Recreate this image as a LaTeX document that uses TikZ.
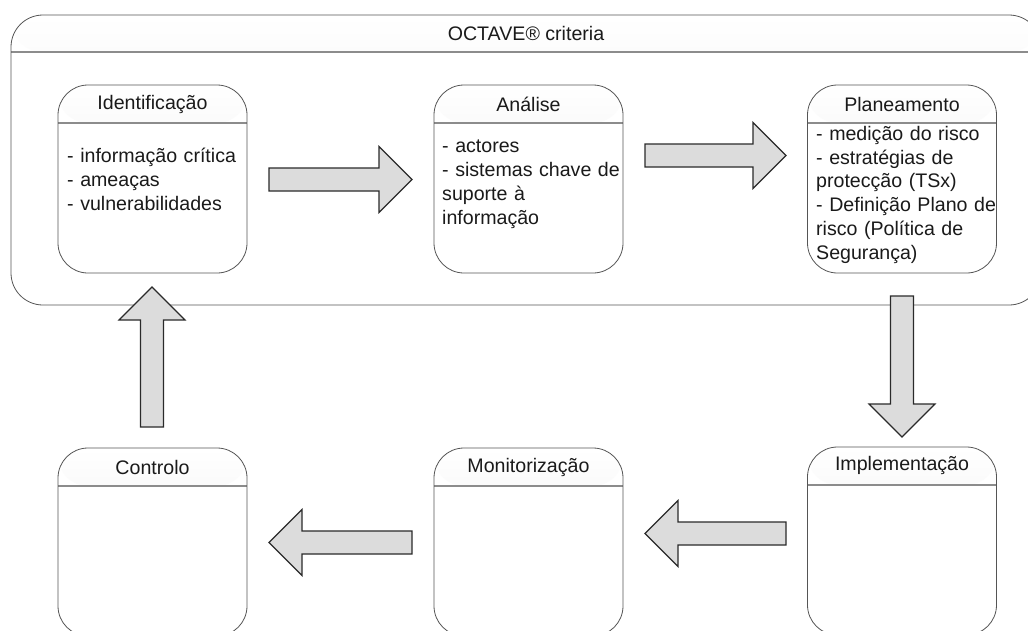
\documentclass[tikz,border=0pt]{standalone}
\usepackage{fontspec}
\setmainfont{Liberation Sans}
\definecolor{edgegray}{HTML}{555555}
\definecolor{hdrline}{HTML}{8C8C8C}
\definecolor{arrfill}{HTML}{DCDCDC}
\definecolor{arredge}{HTML}{2A2A2A}
\definecolor{txt}{HTML}{1A1A1A}
\tikzset{
  hdrband/.style={path picture={
      \shade[top color=white,bottom color=black!9]
        (path picture bounding box.north west) rectangle
        ([yshift=-#1]path picture bounding box.north east);
      \draw[hdrline,line width=1.1pt]
        ([yshift=-#1]path picture bounding box.north west) --
        ([yshift=-#1]path picture bounding box.north east);}},
  container/.style={draw=edgegray,line width=0.8pt,rounded corners=32pt,
    minimum width=1030pt,minimum height=290pt,inner sep=0pt,outer sep=0pt,
    hdrband=37pt},
  stage/.style={draw=edgegray,line width=0.8pt,rounded corners=30pt,
    minimum width=189pt,minimum height=188pt,inner sep=0pt,outer sep=0pt,
    hdrband=38pt},
  lbl/.style={font=\fontsize{19.6}{23.8}\selectfont,text=txt,inner sep=0pt},
  bodytxt/.style={lbl,align=left,text width=200pt,anchor=north west},
  barrow/.style={draw=arredge,fill=arrfill,line width=1.2pt,line join=miter},
}
\newcommand\blockarrow[3]{% tail, angle, length
  \begin{scope}[shift={#1},rotate=#2]
    \draw[barrow] (0,-11.5) -- (#3-33,-11.5) -- (#3-33,-33) -- (#3,0)
      -- (#3-33,33) -- (#3-33,11.5) -- (0,11.5) -- cycle;
  \end{scope}}
\begin{document}
\begin{tikzpicture}[x=1pt,y=-1pt]
  \useasboundingbox (0,0) rectangle (1028,630);
  \clip (0,0) rectangle (1028,630);
  \fill[white] (0,0) rectangle (1028,630);

  % container
  \node[container] (octave) at (526,160) {};
  \node[lbl] (octaveT) at (526,33.5) {OCTAVE® criteria};

  % stages
  \node[stage] (ident) at (152.5,179) {};
  \node[stage] (anal)  at (528.5,179) {};
  \node[stage] (plan)  at (902,179) {};
  \node[stage] (ctrl)  at (152.5,542) {};
  \node[stage] (monit) at (528.5,542) {};
  \node[stage] (impl)  at (902,541) {};

  \node[lbl] (identH) at ([yshift=-19.5pt]ident.north) {Identificação};
  \node[lbl] (analH)  at ([yshift=-19.5pt]anal.north)  {Análise};
  \node[lbl] (planH)  at ([yshift=-19.5pt]plan.north)  {Planeamento};
  \node[lbl] (ctrlH)  at ([yshift=-19.5pt]ctrl.north)  {Controlo};
  \node[lbl] (monitH) at ([yshift=-19.5pt]monit.north) {Monitorização};
  \node[lbl] (implH)  at ([yshift=-18.5pt]impl.north)  {Implementação};

  \node[bodytxt] (identB) at (67,146)
    {\strut- informação crítica\\\strut- ameaças\\\strut- vulnerabilidades};
  \node[bodytxt] (analB) at (442,136)
    {\strut- actores\\\strut- sistemas chave de\\\strut suporte à\\\strut informação};
  \node[bodytxt] (planB) at (816,123.5)
    {\strut- medição do risco\\\strut- estratégias de\\\strut protecção (TSx)\\\strut- Definição Plano de\\\strut risco (Política de\\\strut Segurança)};

  % block arrows
  \blockarrow{(269,179.5)}{0}{143}
  \blockarrow{(645,155.5)}{0}{141}
  \blockarrow{(902,296)}{-90}{141}
  \blockarrow{(786,533.5)}{180}{141}
  \blockarrow{(412,542.5)}{180}{143}
  \blockarrow{(152,427)}{90}{140}
\end{tikzpicture}
\end{document}
